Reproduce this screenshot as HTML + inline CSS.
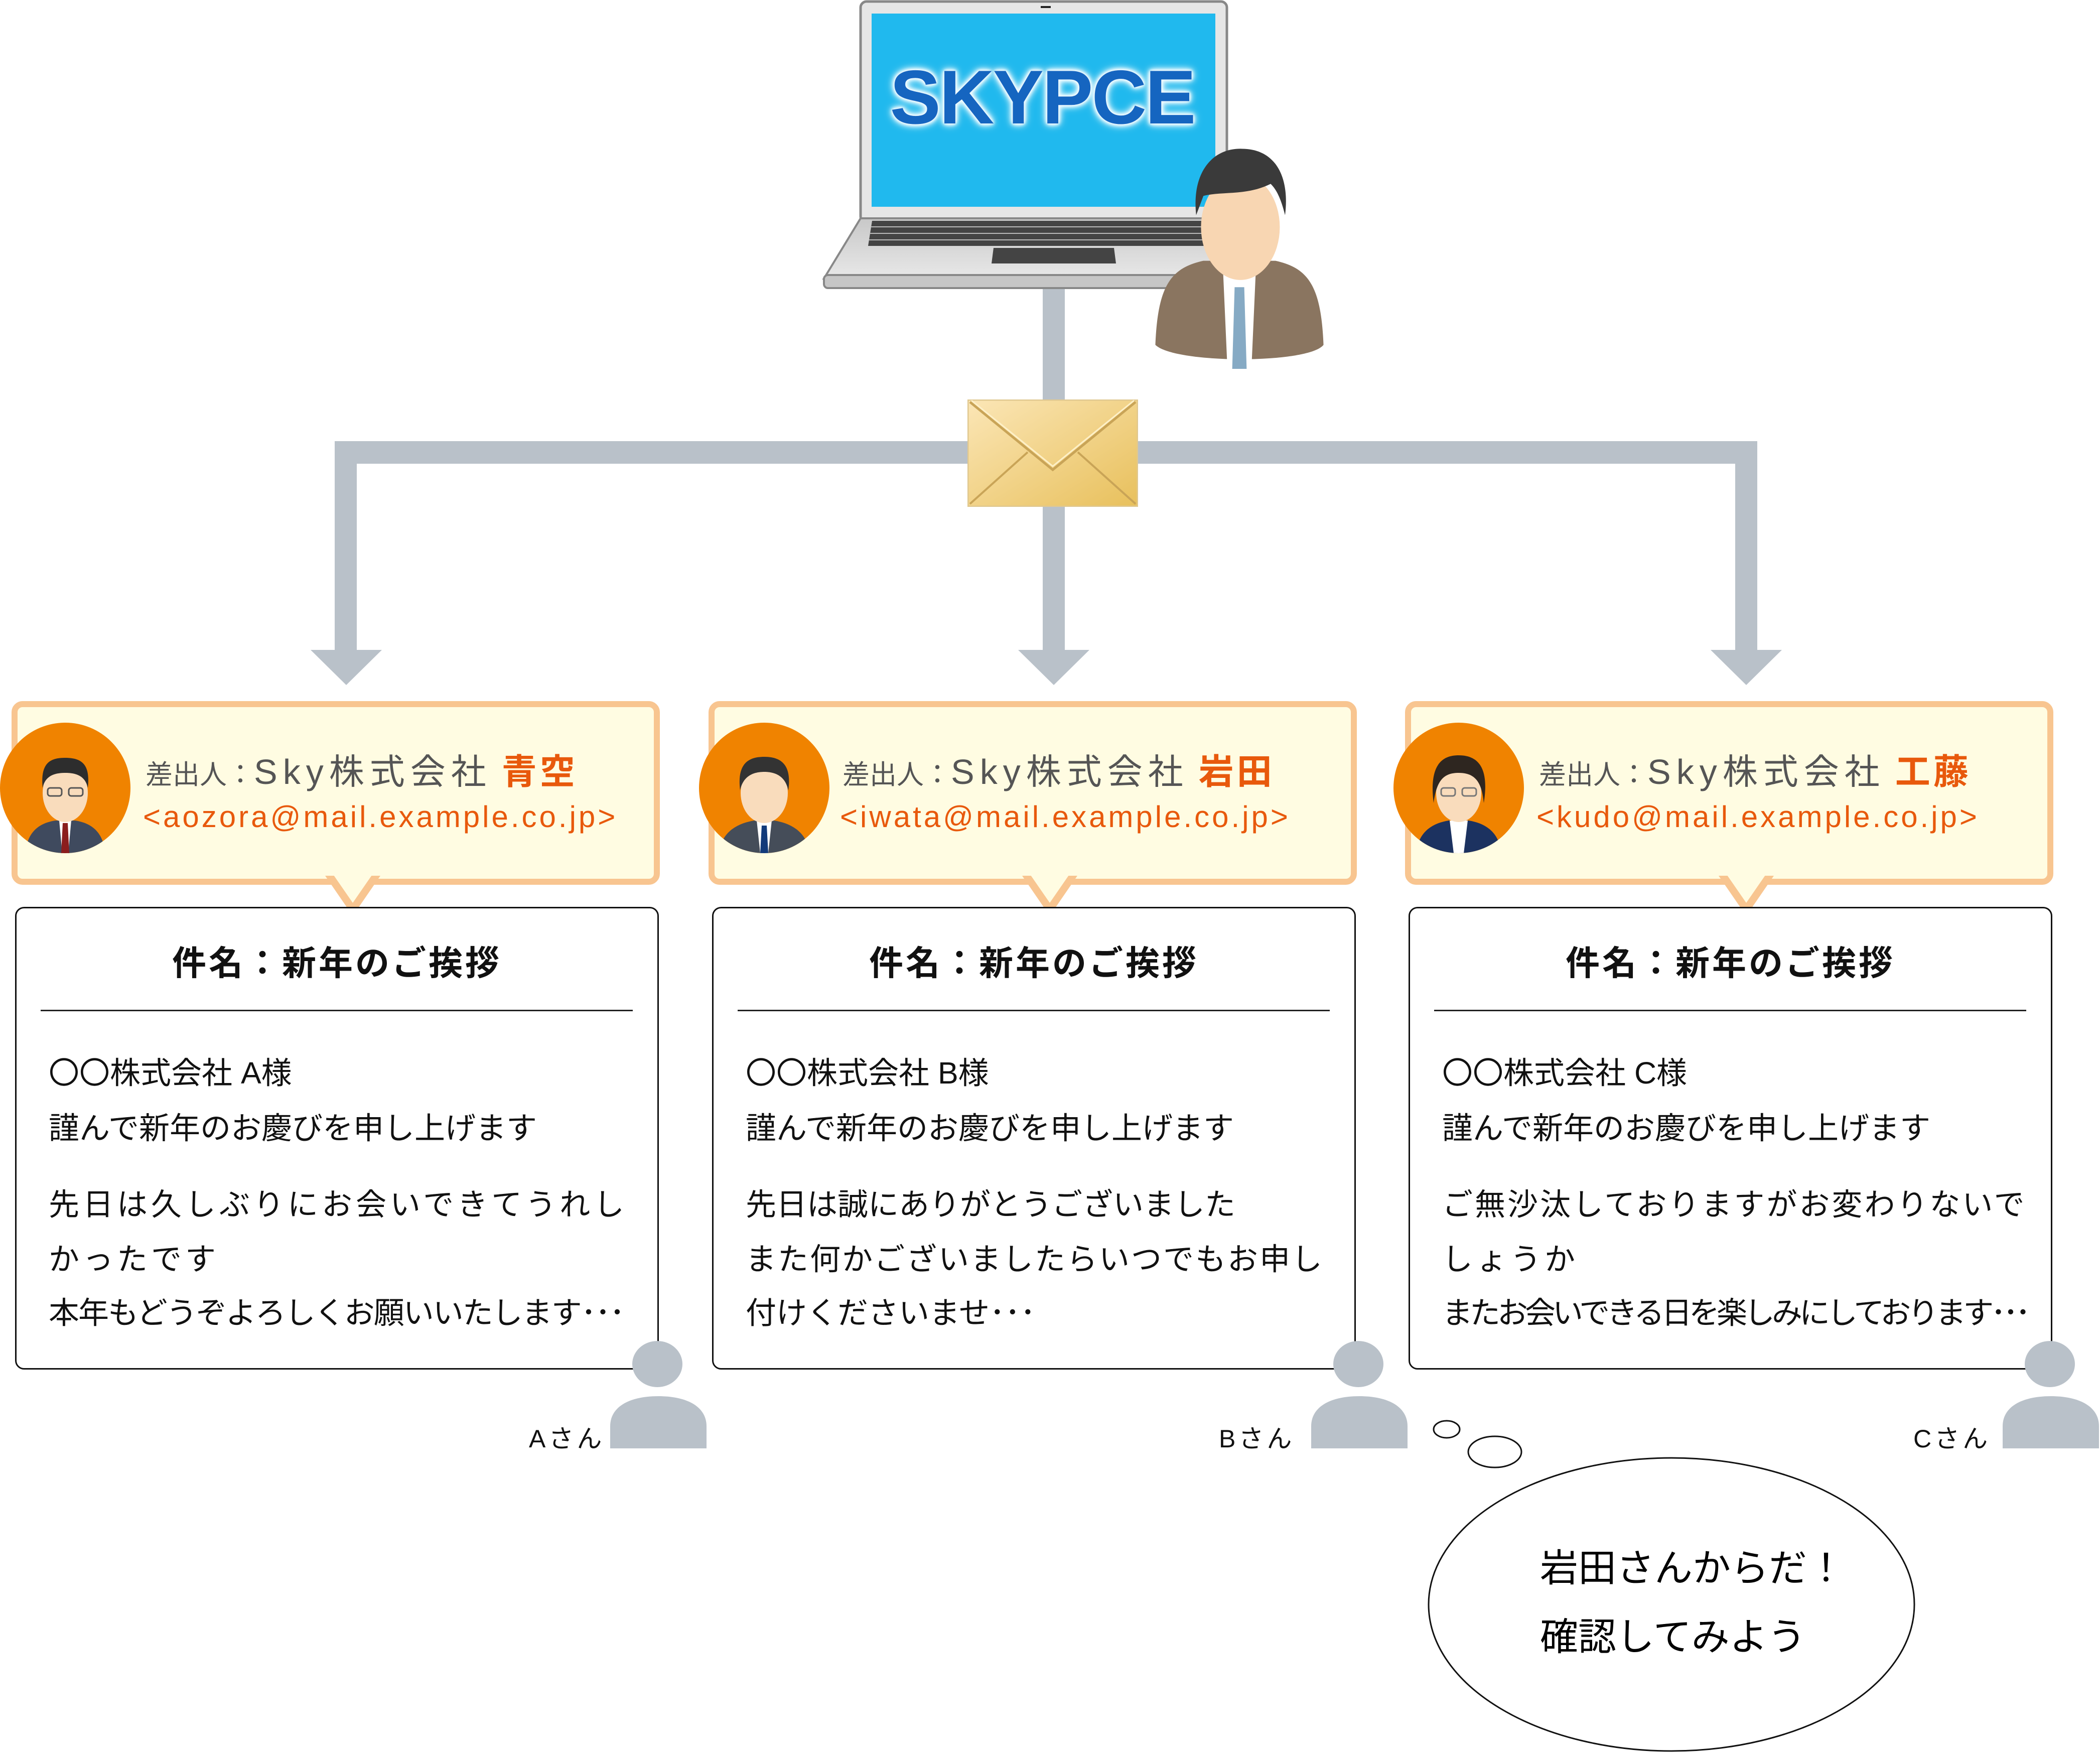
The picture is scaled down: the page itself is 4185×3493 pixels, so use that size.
<!DOCTYPE html>
<html><head><meta charset="utf-8"><style>
*{margin:0;padding:0;box-sizing:border-box}
body{width:4185px;height:3493px;background:#fff;position:relative;overflow:hidden;font-family:"Liberation Sans","Noto Sans CJK JP",sans-serif}
.a{position:absolute}
.g{background:#b9c1c9;position:absolute}
.card{position:absolute;top:0;width:1400px;height:2900px}
.hdr{position:absolute;left:23px;top:1397px;width:1292px;height:366px;background:#fffce2;border:12px solid #f8c590;border-radius:22px}
.tip{position:absolute;left:648px;top:1745px;width:0;height:0;border-left:55px solid transparent;border-right:55px solid transparent;border-top:80px solid #f8c590}
.tip2{position:absolute;left:665px;top:1744px;width:0;height:0;border-left:38px solid transparent;border-right:38px solid transparent;border-top:55px solid #fffce2}
.av{position:absolute;left:0;top:1440px;width:260px;height:260px;border-radius:50%;background:#f08300;overflow:hidden}
.from{position:absolute;left:290px;top:1503px;white-space:nowrap;color:#555;line-height:1}
.from .s{font-size:54px}
.from .c{font-size:70px;letter-spacing:11px}
.from .n{font-size:70px;font-weight:bold;color:#e8590c;letter-spacing:6px;margin-left:20px}
.mail{position:absolute;left:285px;top:1598px;font-size:60px;color:#e8590c;letter-spacing:5px;white-space:nowrap;line-height:1}
.box{position:absolute;left:30px;top:1807px;width:1283px;height:922px;border:3px solid #111;border-radius:18px;background:#fff}
.subj{position:absolute;left:30px;top:1886px;width:1283px;text-align:center;font-size:68px;font-weight:bold;letter-spacing:5px;line-height:1;color:#111}
.line{position:absolute;left:81px;top:2012px;width:1180px;height:3px;background:#222}
.body{position:absolute;left:97px;font-size:61px;line-height:1;white-space:nowrap;color:#111}
.o{font-family:"Noto Sans CJK JP",sans-serif}
.ph{position:absolute;left:1216px;top:2672px;width:192px;height:214px}
.lbl{position:absolute;left:1054px;top:2842px;font-size:50px;letter-spacing:6px;color:#111;line-height:1}
</style></head><body>

<!-- connectors -->
<div class="g" style="left:2078px;top:560px;width:44px;height:330px"></div>
<div class="g" style="left:667px;top:879px;width:2835px;height:45px"></div>
<div class="g" style="left:667px;top:879px;width:44px;height:420px"></div>
<div class="g" style="left:2078px;top:960px;width:44px;height:340px"></div>
<div class="g" style="left:3458px;top:879px;width:44px;height:420px"></div>
<svg class="a" style="left:0;top:0" width="4185" height="1400">
<polygon points="619,1295 761,1295 690,1365" fill="#b9c1c9"/>
<polygon points="2029,1295 2171,1295 2100,1365" fill="#b9c1c9"/>
<polygon points="3409,1295 3551,1295 3480,1365" fill="#b9c1c9"/>
</svg>

<!-- laptop -->
<svg class="a" style="left:1630px;top:0" width="1000" height="600">
<defs><linearGradient id="lb" x1="0" y1="0" x2="0" y2="1"><stop offset="0" stop-color="#c8c8c8"/><stop offset="1" stop-color="#e8e8e8"/></linearGradient></defs>
<rect x="85" y="3" width="730" height="440" rx="12" fill="#e6e6e6" stroke="#888" stroke-width="5"/>
<rect x="107" y="27" width="685" height="385" fill="#20b9ee"/>
<rect x="444" y="12" width="20" height="4" fill="#222"/>
<polygon points="85,435 815,435 850,555 12,555" fill="url(#lb)" stroke="#888" stroke-width="4"/>
<rect x="12" y="548" width="838" height="26" rx="8" fill="#c6c6c6" stroke="#888" stroke-width="4"/>
<polygon points="108,440 794,440 800,490 100,490" fill="#444"/>
<g stroke="#bbb" stroke-width="2"><line x1="105" y1="452" x2="796" y2="452"/><line x1="103" y1="465" x2="797" y2="465"/><line x1="102" y1="478" x2="798" y2="478"/></g>
<polygon points="350,494 590,494 594,525 346,525" fill="#444"/>
</svg>
<div class="a" style="left:1737px;top:118px;width:680px;text-align:center;font-size:152px;font-weight:bold;color:#1565c0;line-height:1;letter-spacing:-3px;text-shadow:0 0 4px #f4fcff,0 0 8px #f4fcff,0 0 8px #f4fcff,0 0 14px #dff6ff,0 0 14px #dff6ff,0 0 20px #c8efff">SKYPCE</div>

<!-- businessman -->
<svg class="a" style="left:2290px;top:285px" width="360" height="450" viewBox="0 0 370 470">
<path d="M10,420 C15,300 40,260 110,245 L260,245 C330,260 355,300 360,420 C330,460 50,460 10,420Z" fill="#8a7560"/>
<polygon points="150,245 220,245 210,470 160,470" fill="#fff"/>
<polygon points="175,300 195,300 200,470 170,470" fill="#86aac4"/>
<ellipse cx="187" cy="175" rx="82" ry="110" fill="#f8d6b2"/>
<path d="M95,150 C85,60 130,10 190,12 C260,12 290,70 280,150 C270,110 260,95 250,85 C200,110 150,100 110,110 Z" fill="#3a3a3a"/>
</svg>

<!-- envelope -->
<svg class="a" style="left:1928px;top:796px" width="340" height="214">
<defs><linearGradient id="ev" x1="0" y1="0" x2="1" y2="1"><stop offset="0" stop-color="#fbe6b6"/><stop offset="1" stop-color="#e8c05c"/></linearGradient></defs>
<rect x="1" y="1" width="338" height="212" fill="url(#ev)" stroke="#e0c890" stroke-width="3"/>
<polyline points="5,208 120,105" stroke="#c9a457" stroke-width="4" fill="none"/>
<polyline points="335,208 220,105" stroke="#c9a457" stroke-width="4" fill="none"/>
<polyline points="5,5 170,140 335,5" stroke="#c9a457" stroke-width="5" fill="none"/>
<polyline points="8,2 170,133 332,2" stroke="#fdf0c8" stroke-width="3" fill="none"/>
</svg>

<!-- card 1 -->
<div class="card" style="left:0">
<div class="hdr"></div><div class="tip"></div><div class="tip2"></div>
<div class="av"><svg width="260" height="260"><path d="M50,260 C55,215 80,200 110,195 L150,195 C180,200 205,215 210,260Z" fill="#3f4a5e"/><polygon points="118,195 142,195 136,260 124,260" fill="#fff"/><polygon points="125,200 135,200 138,260 122,260" fill="#8b1d1d"/><ellipse cx="130" cy="140" rx="45" ry="58" fill="#f9dcbc"/><path d="M85,130 C80,80 100,70 130,70 C165,70 180,85 175,130 C170,105 150,100 130,100 C110,100 90,105 85,130Z" fill="#2d2d2d"/><rect x="95" y="130" width="28" height="16" rx="5" fill="none" stroke="#555" stroke-width="3"/><rect x="137" y="130" width="28" height="16" rx="5" fill="none" stroke="#555" stroke-width="3"/></svg></div>
<div class="from"><span class="s">差出人：</span><span class="c">Sky株式会社</span><span class="n">青空</span></div>
<div class="mail">&lt;aozora@mail.example.co.jp&gt;</div>
<div class="box"></div>
<div class="subj">件名：新年のご挨拶</div>
<div class="line"></div>
<div class="body" style="top:2102px"><span class="o">〇〇</span>株式会社 A様</div>
<div class="body" style="top:2218px">謹んで新年のお慶びを申し上げます</div>
<div class="body" style="top:2370px;letter-spacing:7px">先日は久しぶりにお会いできてうれし</div>
<div class="body" style="top:2479px;letter-spacing:7px">かったです</div>
<div class="body" style="top:2586px;letter-spacing:-2px">本年もどうぞよろしくお願いいたします･･･</div>
<svg class="ph" viewBox="0 0 192 214"><ellipse cx="94" cy="46" rx="50" ry="46" fill="#b9c1c9"/><path d="M0,214 L0,170 C0,130 40,110 96,110 C152,110 192,130 192,170 L192,214Z" fill="#b9c1c9"/></svg>
<div class="lbl">Aさん</div>
</div>

<!-- card 2 -->
<div class="card" style="left:1389px">
<div class="hdr"></div><div class="tip"></div><div class="tip2"></div>
<div class="av" style="left:4px"><svg width="260" height="260"><path d="M40,260 C45,215 80,200 110,195 L150,195 C180,200 215,215 220,260Z" fill="#454d59"/><polygon points="115,195 145,195 138,260 122,260" fill="#fff"/><polygon points="125,205 135,205 138,260 122,260" fill="#123a7a"/><ellipse cx="130" cy="140" rx="47" ry="60" fill="#f9dcbc"/><path d="M82,135 C75,80 100,68 130,68 C165,68 185,85 178,135 C172,105 150,98 130,98 C110,98 88,105 82,135Z" fill="#333"/></svg></div>
<div class="from"><span class="s">差出人：</span><span class="c">Sky株式会社</span><span class="n">岩田</span></div>
<div class="mail">&lt;iwata@mail.example.co.jp&gt;</div>
<div class="box"></div>
<div class="subj">件名：新年のご挨拶</div>
<div class="line"></div>
<div class="body" style="top:2102px"><span class="o">〇〇</span>株式会社 B様</div>
<div class="body" style="top:2218px">謹んで新年のお慶びを申し上げます</div>
<div class="body" style="top:2370px">先日は誠にありがとうございました</div>
<div class="body" style="top:2479px;letter-spacing:3px">また何かございましたらいつでもお申し</div>
<div class="body" style="top:2586px">付けくださいませ･･･</div>
<svg class="ph" style="left:1224px" viewBox="0 0 192 214"><ellipse cx="94" cy="46" rx="50" ry="46" fill="#b9c1c9"/><path d="M0,214 L0,170 C0,130 40,110 96,110 C152,110 192,130 192,170 L192,214Z" fill="#b9c1c9"/></svg>
<div class="lbl" style="left:1040px">Bさん</div>
</div>

<!-- card 3 -->
<div class="card" style="left:2777px">
<div class="hdr"></div><div class="tip"></div><div class="tip2"></div>
<div class="av"><svg width="260" height="260"><path d="M45,260 C50,215 80,200 110,195 L150,195 C180,200 210,215 215,260Z" fill="#1c3260"/><polygon points="112,195 148,195 140,260 120,260" fill="#fff"/><ellipse cx="130" cy="140" rx="45" ry="58" fill="#f9dcbc"/><path d="M80,160 C70,80 100,65 130,65 C165,65 192,85 180,160 C176,115 160,100 130,100 C100,100 86,115 80,160Z" fill="#2e2620"/><rect x="95" y="130" width="28" height="16" rx="5" fill="none" stroke="#777" stroke-width="3"/><rect x="137" y="130" width="28" height="16" rx="5" fill="none" stroke="#777" stroke-width="3"/></svg></div>
<div class="from"><span class="s">差出人：</span><span class="c">Sky株式会社</span><span class="n">工藤</span></div>
<div class="mail">&lt;kudo@mail.example.co.jp&gt;</div>
<div class="box"></div>
<div class="subj">件名：新年のご挨拶</div>
<div class="line"></div>
<div class="body" style="top:2102px"><span class="o">〇〇</span>株式会社 C様</div>
<div class="body" style="top:2218px">謹んで新年のお慶びを申し上げます</div>
<div class="body" style="top:2370px;letter-spacing:4px">ご無沙汰しておりますがお変わりないで</div>
<div class="body" style="top:2479px;letter-spacing:7px">しょうか</div>
<div class="body" style="top:2586px;letter-spacing:-6px">またお会いできる日を楽しみにしております･･･</div>
<svg class="ph" style="left:1214px" viewBox="0 0 192 214"><ellipse cx="94" cy="46" rx="50" ry="46" fill="#b9c1c9"/><path d="M0,214 L0,170 C0,130 40,110 96,110 C152,110 192,130 192,170 L192,214Z" fill="#b9c1c9"/></svg>
<div class="lbl" style="left:1036px">Cさん</div>
</div>

<!-- thought bubble -->
<svg class="a" style="left:2800px;top:2800px" width="1100" height="693">
<ellipse cx="83" cy="48" rx="26" ry="17" fill="#fff" stroke="#111" stroke-width="3"/>
<ellipse cx="179" cy="93" rx="53" ry="31" fill="#fff" stroke="#111" stroke-width="3"/>
<ellipse cx="531" cy="397" rx="484" ry="292" fill="#fff" stroke="#111" stroke-width="3"/>
</svg>
<div class="a" style="left:3069px;top:3088px;font-size:76px;line-height:1;white-space:nowrap">岩田さんからだ！</div>
<div class="a" style="left:3069px;top:3225px;font-size:76px;line-height:1;white-space:nowrap">確認してみよう</div>
</body></html>
